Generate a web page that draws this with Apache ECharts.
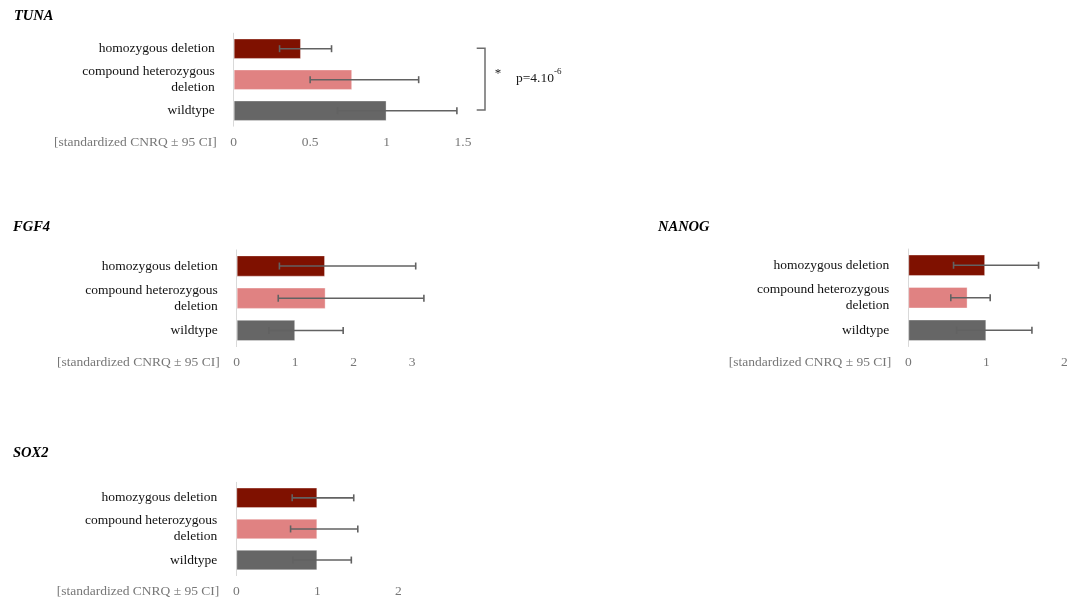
<!DOCTYPE html>
<html>
<head>
<meta charset="utf-8">
<script src="https://cdn.jsdelivr.net/npm/echarts@6/dist/echarts.min.js"></script>
<style>html,body{margin:0;padding:0;background:#fff}#c{width:1077px;height:600px}</style>
</head>
<body>
<div id="c"></div>
<script>
const categories = ['homozygous deletion', 'compound heterozygous\ndeletion', 'wildtype'];
const barColors = ['#7f1100', '#e08282', '#666666'];
const genes = ['TUNA', 'FGF4', 'NANOG', 'SOX2'];
const axisTitle = '[standardized CNRQ ± 95 CI]';

const tunaValues = [0.44, 0.775, 1.0];
const tunaLow = [0.30, 0.50, 0.68];
const tunaHigh = [0.64, 1.21, 1.46];

const fgf4Values = [1.51, 1.52, 1.0];
const fgf4Low = [0.73, 0.71, 0.55];
const fgf4High = [3.06, 3.20, 1.82];

const nanogValues = [0.985, 0.76, 1.0];
const nanogLow = [0.58, 0.545, 0.62];
const nanogHigh = [1.67, 1.05, 1.585];

const sox2Values = [1.0, 1.0, 1.0];
const sox2Low = [0.69, 0.67, 0.70];
const sox2High = [1.45, 1.50, 1.42];

const axisMax = [1.5, 3, 2, 2];
const axisInterval = [0.5, 1, 1, 1];

const pText = 'p=4.10';
const pExp = '-6';

const allValues = [tunaValues, fgf4Values, nanogValues, sox2Values];
const allLow = [tunaLow, fgf4Low, nanogLow, sox2Low];
const allHigh = [tunaHigh, fgf4High, nanogHigh, sox2High];

const serif = '"Liberation Serif", "DejaVu Serif", serif';
const grids = [
  {left: 233.7, top: 33.2, width: 229.3, height: 93},
  {left: 236.7, top: 249.9, width: 175.5, height: 96.7},
  {left: 908.3, top: 249, width: 156, height: 97.5},
  {left: 236.3, top: 482.3, width: 162, height: 93.3}
];
const titlePos = [[14, 9], [13, 220], [658, 220], [13, 446]];

const chart = echarts.init(document.getElementById('c'));
const option = {
  backgroundColor: '#fff',
  animation: false,
  title: genes.map((g, i) => ({
    text: g, left: titlePos[i][0], top: titlePos[i][1], padding: 0,
    textStyle: {fontFamily: serif, fontStyle: 'italic', fontWeight: 'bold', fontSize: 14.5, color: '#000'}
  })),
  grid: grids.map(g => Object.assign({containLabel: false}, g)),
  xAxis: genes.map((g, i) => ({
    type: 'value', gridIndex: i, min: 0, max: axisMax[i], interval: axisInterval[i],
    axisLine: {show: false}, axisTick: {show: false}, splitLine: {show: false},
    axisLabel: {margin: 9, fontFamily: serif, fontSize: 13.5, color: '#777777', showMaxLabel: true},
    name: axisTitle, nameLocation: 'start', nameGap: 17,
    nameTextStyle: {fontFamily: serif, fontSize: 13.5, color: '#777777', verticalAlign: 'top', align: 'right', padding: [9, 0, 0, 0]}
  })),
  yAxis: genes.map((g, i) => ({
    type: 'category', gridIndex: i, data: categories, inverse: true,
    axisLine: {show: true, lineStyle: {color: '#d9d9d9', width: 1}},
    axisTick: {show: false}, splitLine: {show: false},
    axisLabel: {margin: 19, fontFamily: serif, fontSize: 13.5, color: '#111111', lineHeight: 16, align: 'right'}
  })),
  series: [].concat(
    genes.map((g, i) => ({
      type: 'bar', name: g, xAxisIndex: i, yAxisIndex: i, barWidth: '66%',
      data: allValues[i].map((v, k) => ({value: v, itemStyle: {color: barColors[k], borderColor: 'rgba(255,255,255,0.35)', borderWidth: 1}})),
      z: 2
    })),
    genes.map((g, i) => ({
      type: 'custom', name: g + ' CI', xAxisIndex: i, yAxisIndex: i, z: 5, clip: false,
      encode: {x: [1, 2], y: 0},
      data: allLow[i].map((lo, k) => [k, lo, allHigh[i][k]]),
      renderItem: function (params, api) {
        const c = api.value(0);
        const p1 = api.coord([api.value(1), c]);
        const p2 = api.coord([api.value(2), c]);
        const h = 3.5;
        const style = {stroke: '#626262', lineWidth: 1.6};
        return {
          type: 'group', children: [
            {type: 'line', shape: {x1: p1[0], y1: p1[1], x2: p2[0], y2: p2[1]}, style: style},
            {type: 'line', shape: {x1: p1[0], y1: p1[1] - h, x2: p1[0], y2: p1[1] + h}, style: style},
            {type: 'line', shape: {x1: p2[0], y1: p2[1] - h, x2: p2[0], y2: p2[1] + h}, style: style}
          ]
        };
      }
    }))
  ),
  graphic: [
    {type: 'polyline', shape: {points: [[476.7, 48.3], [485, 48.3], [485, 110], [476.7, 110]]},
     style: {stroke: '#6e6e6e', lineWidth: 1.5, fill: null}},
    {type: 'text', x: 498, y: 74, style: {text: '*', font: '13px ' + serif, fill: '#1a1a1a', align: 'center', verticalAlign: 'middle'}},
    {type: 'text', x: 516, y: 78, style: {
      text: '{a|' + pText + '}{b|' + pExp + '}',
      verticalAlign: 'middle', align: 'left',
      rich: {
        a: {fontFamily: serif, fontSize: 13.5, fill: '#1a1a1a', color: '#1a1a1a'},
        b: {fontFamily: serif, fontSize: 9, fill: '#1a1a1a', color: '#1a1a1a', verticalAlign: 'top', padding: [0, 0, 12, 0]}
      }
    }}
  ]
};
chart.setOption(option);
</script>
</body>
</html>
